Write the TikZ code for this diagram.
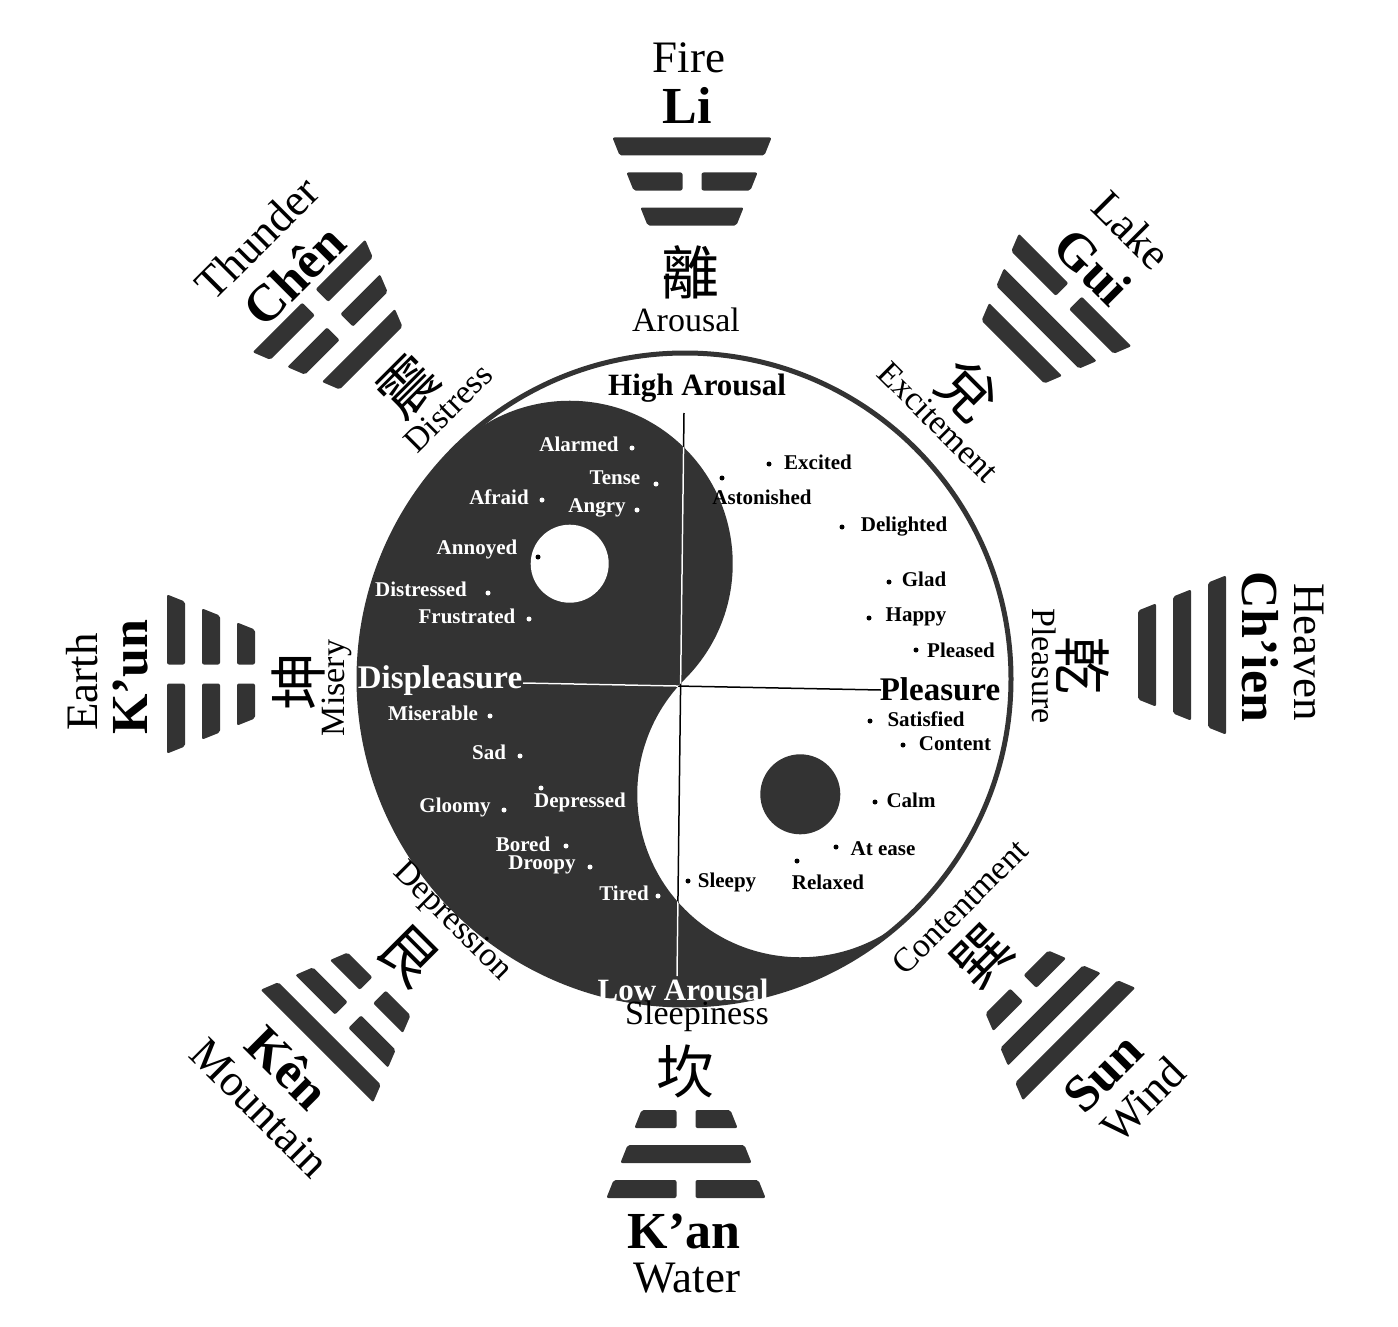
\documentclass[tikz,border=0pt]{standalone}
\usepackage{fontspec}
\setmainfont{Liberation Serif}
\newfontfamily\cjk{Noto Sans CJK TC}
\definecolor{ink}{HTML}{333333}
\tikzset{
  trig/.style={fill=ink, rounded corners=2pt},
  elem/.style={inner sep=0pt, font=\fontsize{45}{45}\selectfont},
  roman/.style={inner sep=0pt, font=\fontsize{52}{52}\selectfont\bfseries},
  emo/.style={inner sep=0pt, font=\fontsize{34}{34}\selectfont},
  hanzi/.style={inner sep=0pt, font=\cjk\fontsize{58}{58}\selectfont},
  labw/.style={inner sep=0pt, text=white, font=\fontsize{21}{21}\selectfont\bfseries},
  labb/.style={inner sep=0pt, text=black, font=\fontsize{21}{21}\selectfont\bfseries},
  dotw/.style={circle, fill=white, inner sep=0pt, minimum size=5pt},
  dotb/.style={circle, fill=black, inner sep=0pt, minimum size=5pt},
  axlab/.style={inner sep=0pt, font=\fontsize{31}{31}\selectfont\bfseries},
  axline/.style={line width=1.5pt},
}
\newcommand{\trigbar}[2]{%
  \pgfmathsetmacro\tya{#1-9}%
  \pgfmathsetmacro\tyb{#1+9}%
  \pgfmathsetmacro\twa{62+0.4*\tya}%
  \pgfmathsetmacro\twb{62+0.4*\tyb}%
  \ifnum#2=1\relax
    \fill[trig] (-\twa,\tya) -- (\twa,\tya) -- (\twb,\tyb) -- (-\twb,\tyb) -- cycle;
  \else
    \fill[trig] (-\twa,\tya) -- (-9.5,\tya) -- (-9.5,\tyb) -- (-\twb,\tyb) -- cycle;
    \fill[trig] (9.5,\tya) -- (\twa,\tya) -- (\twb,\tyb) -- (9.5,\tyb) -- cycle;
  \fi}
\newcommand{\trigram}[5]{%
  \begin{scope}[shift={(#1)}, rotate=#2]
    \trigbar{-35}{#3}\trigbar{0}{#4}\trigbar{35}{#5}
  \end{scope}}
\begin{document}
\begin{tikzpicture}[x=1pt,y=1pt]
\fill[white] (0,0) rectangle (1398,-1327);
\path[use as bounding box] (0,0) rectangle (1398,-1327);

% trigrams: position of middle bar, rotation, inner/middle/outer (1 solid, 0 broken)
\trigram{692,-181.5}{0}{1}{0}{1}     % Li
\trigram{1044,-321}{-45}{1}{1}{0}    % Gui
\trigram{1182,-655}{-90}{1}{1}{1}    % Ch'ien
\trigram{1048,-1013}{-135}{0}{1}{1}  % Sun
\trigram{686,-1154}{180}{0}{1}{0}    % K'an
\trigram{348,-1015}{135}{0}{0}{1}    % Ken
\trigram{211,-674}{90}{0}{0}{0}      % K'un
\trigram{340,-327}{45}{1}{0}{0}      % Chen

% yin (dark) region
\fill[ink] (454.48,-448.48) arc[start angle=135,end angle=315,radius=326]
  arc[start angle=-45,end angle=-225,radius=163]
  arc[start angle=-45,end angle=135,radius=163] -- cycle;
\fill[white] (569.7,-563.7) circle (39);
\fill[ink] (800.3,-794.3) circle (40);
\draw[ink, line width=5pt] (685,-679) circle (326);

% axes
\coordinate (vt) at (684,-413);
\coordinate (vb) at (677,-976);
\coordinate (hl) at (523,-683);
\coordinate (hr) at (881,-690);
\draw[axline, black] (vt) -- (vb);
\draw[axline, black] (hl) -- (hr);
\begin{scope}
  \clip (454.48,-448.48) arc[start angle=135,end angle=315,radius=326]
    arc[start angle=-45,end angle=-225,radius=163]
    arc[start angle=-45,end angle=135,radius=163] -- cycle;
  \draw[axline, white] (vt) -- (vb);
  \draw[axline, white] (hl) -- (hr);
\end{scope}

\node[axlab, text=black] (ha) at (697,-388) {High Arousal};
\node[axlab, text=white] (la) at (683,-990) {Low Arousal};
\node[axlab, text=white, font=\fontsize{33}{33}\selectfont\bfseries] (dp) at (440,-681) {Displeasure};
\node[axlab, text=black, font=\fontsize{33}{33}\selectfont\bfseries] (pl) at (940,-689) {Pleasure};

% dark-side labels
\node[labw] (alarmed) at (579,-444) {Alarmed};   \node[dotw] (d-alarmed) at (632,-448) {};
\node[labw] (tense) at (615,-478) {Tense};       \node[dotw] (d-tense) at (656,-484) {};
\node[labw] (afraid) at (499,-497) {Afraid};     \node[dotw] (d-afraid) at (542,-500) {};
\node[labw] (angry) at (597,-508) {Angry};       \node[dotw] (d-angry) at (637,-510) {};
\node[labw] (annoyed) at (477,-549) {Annoyed};   \node[dotb] (d-annoyed) at (538,-557) {};
\node[labw] (distressed) at (421,-589) {Distressed}; \node[dotw] (d-distressed) at (488,-593) {};
\node[labw] (frustrated) at (467,-616) {Frustrated}; \node[dotw] (d-frustrated) at (529,-619) {};
\node[labw] (miserable) at (433,-713) {Miserable}; \node[dotw] (d-miserable) at (490,-716) {};
\node[labw] (sad) at (489,-752) {Sad};           \node[dotw] (d-sad) at (520,-756) {};
\node[labw] (depressed) at (580,-802) {Depressed}; \node[dotw] (d-depressed) at (541,-788) {};
\node[labw] (gloomy) at (455,-807) {Gloomy};     \node[dotw] (d-gloomy) at (504,-810) {};
\node[labw] (bored) at (523,-844) {Bored};       \node[dotw] (d-bored) at (566,-846) {};
\node[labw] (droopy) at (542,-865) {Droopy};     \node[dotw] (d-droopy) at (590,-867) {};
\node[labw] (tired) at (624,-893) {Tired};       \node[dotw] (d-tired) at (658,-896) {};

% light-side labels
\node[labb] (excited) at (818,-462) {Excited};   \node[dotb] (d-excited) at (769,-464) {};
\node[labb] (astonished) at (762,-497) {Astonished}; \node[dotb] (d-astonished) at (722,-478) {};
\node[labb] (delighted) at (904,-527) {Delighted}; \node[dotb] (d-delighted) at (842,-527) {};
\node[labb] (glad) at (924,-579) {Glad};         \node[dotb] (d-glad) at (889,-582) {};
\node[labb] (happy) at (916,-617) {Happy};       \node[dotb] (d-happy) at (869,-618) {};
\node[labb] (pleased) at (961,-650) {Pleased};   \node[dotb] (d-pleased) at (916,-650) {};
\node[labb] (satisfied) at (926,-719) {Satisfied}; \node[dotb] (d-satisfied) at (870,-721) {};
\node[labb] (content) at (955,-744) {Content};   \node[dotb] (d-content) at (903,-745) {};
\node[labb] (calm) at (911,-800) {Calm};         \node[dotb] (d-calm) at (875,-802) {};
\node[labb] (atease) at (883,-849) {At ease};    \node[dotb] (d-atease) at (836,-847) {};
\node[labb] (relaxed) at (828,-882) {Relaxed};   \node[dotb] (d-relaxed) at (797,-861) {};
\node[labb] (sleepy) at (727,-882) {Sleepy};     \node[dotb] (d-sleepy) at (688,-881) {};

% Li group
\node[elem] (fire) at (689,-58) {Fire};
\node[roman] (li) at (687,-105) {Li};
\node[hanzi] (li-zi) at (690,-272) {離};
\node[emo] (arousal) at (686,-320) {Arousal};
% Gui group
\node[elem, rotate=-45] (lake) at (1132,-230) {Lake};
\node[roman, rotate=-45] (gui) at (1093,-267) {Gui};
\node[hanzi, rotate=-45] (gui-zi) at (967,-391) {兌};
\node[emo, rotate=-45] (excitement) at (938,-422) {Excitement};
% Ch'ien group
\node[elem, rotate=-90] (heaven) at (1309,-652) {Heaven};
\node[roman, rotate=-90] (chien) at (1260,-647) {Ch’ien};
\node[hanzi, rotate=-90] (chien-zi) at (1083,-665) {乾};
\node[emo, rotate=-90] (pleasure2) at (1044,-666) {Pleasure};
% Sun group
\node[elem, rotate=45] (wind) at (1143,-1100) {Wind};
\node[roman, rotate=45] (sun) at (1103,-1073) {Sun};
\node[hanzi, rotate=45] (sun-zi) at (982,-956) {巽};
\node[emo, rotate=45] (contentment) at (960,-907) {Contentment};
% K'an group
\node[elem] (water) at (687,-1278) {Water};
\node[roman] (kan) at (684,-1231) {K’an};
\node[hanzi] (kan-zi) at (685,-1071) {坎};
\node[emo] (sleepiness) at (697,-1016) {Sleepiness};
% Ken group
\node[elem, rotate=-45] (mountain) at (260,-1108) {Mountain};
\node[roman, rotate=-45] (ken) at (288,-1067) {Kên};
\node[hanzi, rotate=-45] (ken-zi) at (408,-956) {艮};
\node[emo, rotate=-45] (depression) at (452,-922) {Depression};
% K'un group
\node[elem, rotate=90] (earth) at (82,-682) {Earth};
\node[roman, rotate=90] (kun) at (131,-677) {K’un};
\node[hanzi, rotate=90] (kun-zi) at (298,-681) {坤};
\node[emo, rotate=90] (misery) at (337,-688) {Misery};
% Chen group
\node[elem, rotate=45] (thunder) at (257,-238) {Thunder};
\node[roman, rotate=45] (chen) at (294,-275) {Chên};
\node[hanzi, rotate=45] (chen-zi) at (408,-386) {震};
\node[emo, rotate=45] (distress) at (448,-408) {Distress};
\end{tikzpicture}
\end{document}
